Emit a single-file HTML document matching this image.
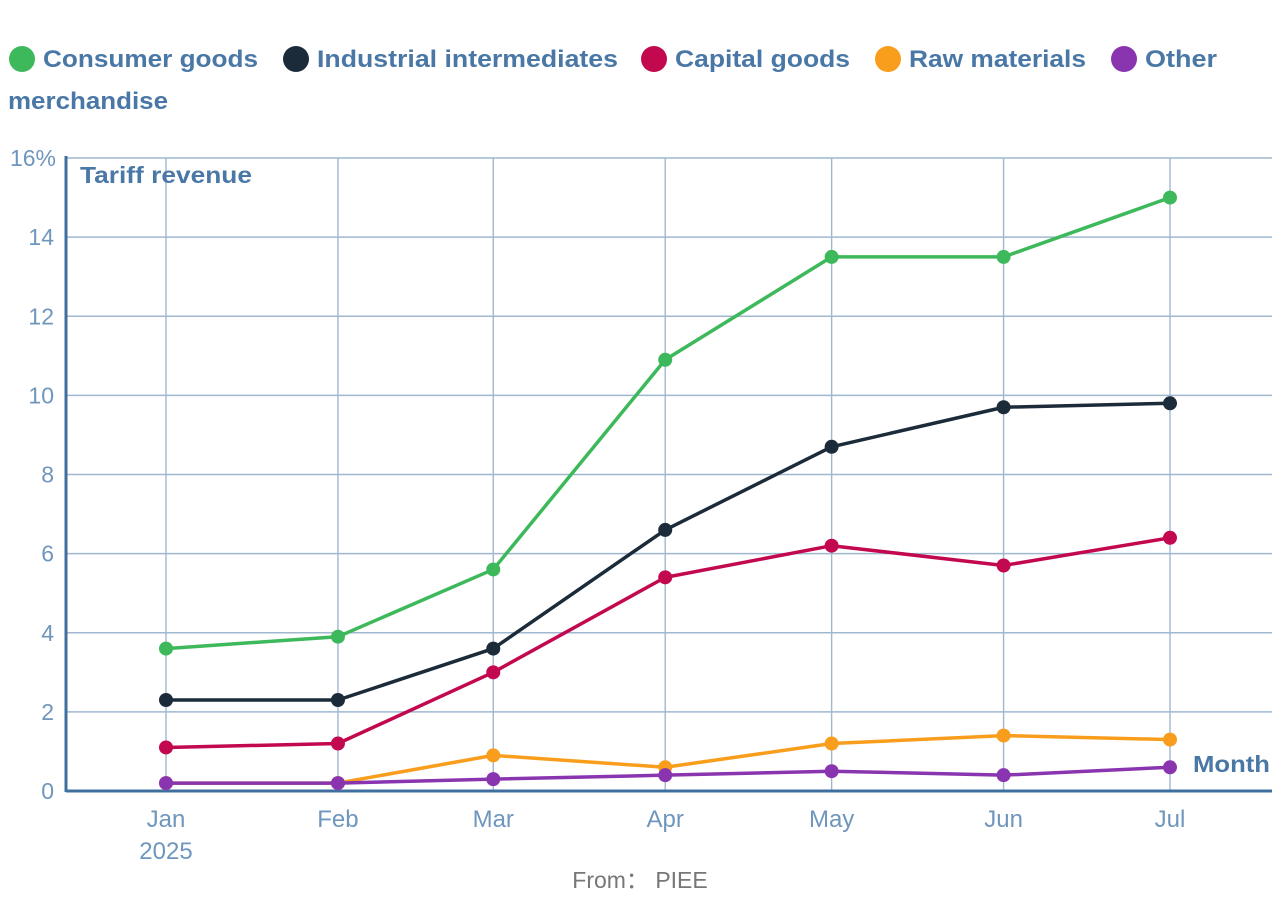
<!DOCTYPE html>
<html><head><meta charset="utf-8"><style>
body{margin:0;background:#fff;width:1280px;height:904px;overflow:hidden;font-family:"Liberation Sans",sans-serif}
svg{display:block}
</style></head><body>
<svg id="c" width="1280" height="904"></svg>
<script>
const months=["Jan","Feb","Mar","Apr","May","Jun","Jul"];
const dayOffsets=[0,31,59,90,120,151,181];
const yTicks=[0,2,4,6,8,10,12,14,16];
const seriesNames=["Consumer goods","Industrial intermediates","Capital goods","Raw materials","Other merchandise"];
const consumer=[3.6,3.9,5.6,10.9,13.5,13.5,15.0];
const industrial=[2.3,2.3,3.6,6.6,8.7,9.7,9.8];
const capital=[1.1,1.2,3.0,5.4,6.2,5.7,6.4];
const raw=[0.2,0.2,0.9,0.6,1.2,1.4,1.3];
const other=[0.2,0.2,0.3,0.4,0.5,0.4,0.6];
const colors=["#3db95b","#1c2b3a","#c2094f","#f99d1c","#8a35b0"];
const NS="http://www.w3.org/2000/svg";
const svg=document.getElementById('c');
const L=66,R=1272,T=158,B=791;
const x=d=>166+d*(1004/181);
const y=v=>B-v*(B-T)/16;
function el(t,a,p){const e=document.createElementNS(NS,t);for(const k in a)e.setAttribute(k,a[k]);(p||svg).appendChild(e);return e;}
yTicks.forEach(v=>{
 const g=el('line',{x1:L,x2:R,y1:y(v),y2:y(v),stroke:"#9fb8d0","stroke-width":1.4});
 
 
 const t=el('text',{x:v==16?56:54,y:y(v)+8,"text-anchor":"end","font-size":23,fill:"#6f96bd"});
 t.textContent=v==16?"16%":v;
 
 
});
months.forEach((m,i)=>{
 const g=el('line',{x1:x(dayOffsets[i]),x2:x(dayOffsets[i]),y1:T,y2:B,stroke:"#9fb8d0","stroke-width":1.4});
 
 
 const t=el('text',{x:x(dayOffsets[i]),y:827,"text-anchor":"middle","font-size":24,fill:"#6f96bd"});
 t.textContent=m;
 
 
});
const yr=el('text',{x:166,y:859,"text-anchor":"middle","font-size":24,fill:"#6f96bd"});yr.textContent="2025";


const ax=el('line',{x1:L,x2:L,y1:T-2,y2:B+1,stroke:"#3f6f9f","stroke-width":3});


const bx=el('line',{x1:L,x2:R,y1:B,y2:B,stroke:"#3f6f9f","stroke-width":3});


const yt=el('text',{x:80,y:183,"font-size":23,"font-weight":"bold",fill:"#4a78a6",textLength:172,lengthAdjust:"spacingAndGlyphs"});yt.textContent="Tariff revenue";


const xt=el('text',{x:1193,y:772,"font-size":23,"font-weight":"bold",fill:"#4a78a6",textLength:77,lengthAdjust:"spacingAndGlyphs"});xt.textContent="Month";


const src=el('text',{x:640,y:888,"text-anchor":"middle","font-size":23,fill:"#777"});src.textContent="From： PIEE";


const all=[consumer,industrial,capital,raw,other];
const order=[3,4,2,1,0];
order.forEach(s=>{
 const vals=all[s];
 const pts=vals.map((v,i)=>x(dayOffsets[i])+","+y(v)).join(" ");
 const pl=el('polyline',{points:pts,fill:"none",stroke:colors[s],"stroke-width":3.5,"stroke-linejoin":"round"});
 
 
 vals.forEach((v,i)=>{
  const c=el('circle',{cx:x(dayOffsets[i]),cy:y(v),r:7,fill:colors[s]});
  
  
 });
});
const lg=[[22,"Consumer goods",215],[296,"Industrial intermediates",301],[654,"Capital goods",175],[888,"Raw materials",177],[1124,"Other",72]];
lg.forEach((l,i)=>{
 const c=el('circle',{cx:l[0],cy:59,r:13,fill:colors[i]});
 
 
 const t=el('text',{x:l[0]+21,y:67,"font-size":24,"font-weight":"bold",fill:"#4a78a6",textLength:l[2],lengthAdjust:"spacingAndGlyphs"});t.textContent=l[1];
 
 
});
const t2=el('text',{x:8,y:109,"font-size":24,"font-weight":"bold",fill:"#4a78a6",textLength:160,lengthAdjust:"spacingAndGlyphs"});t2.textContent="merchandise";


</script>
</body></html>
